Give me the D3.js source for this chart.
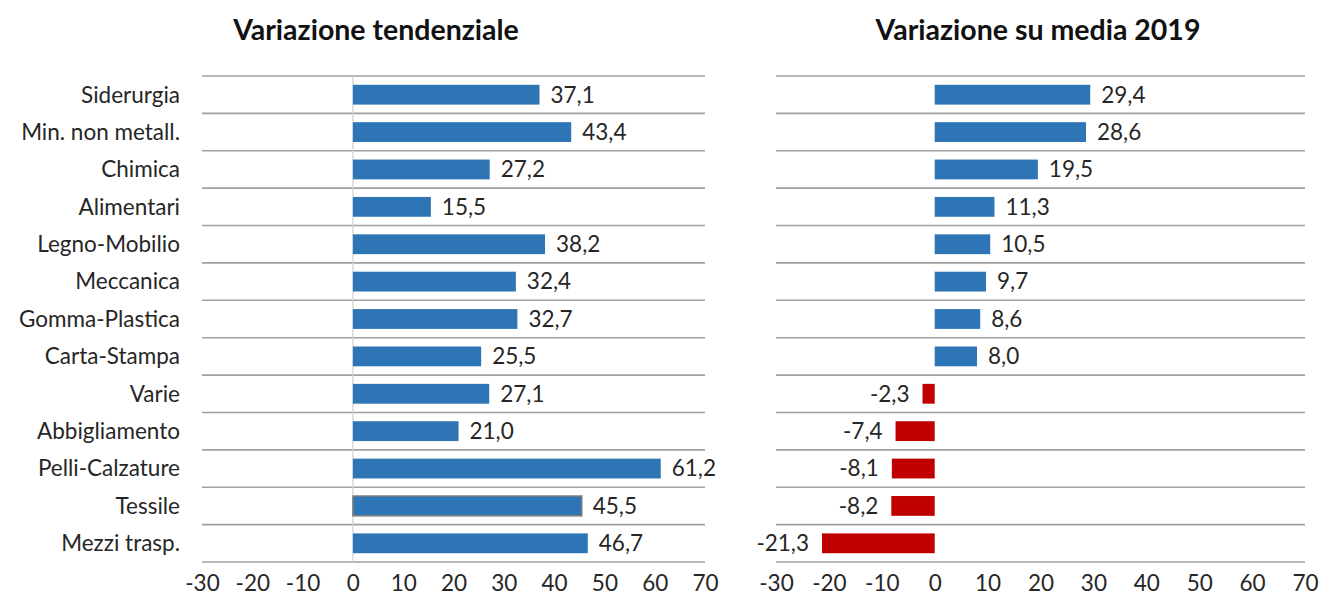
<!DOCTYPE html>
<html>
<head>
<meta charset="utf-8">
<script src="https://cdn.jsdelivr.net/npm/d3@7.9.0/dist/d3.min.js"></script>
<style>
  body { margin: 0; background: #fff; }
  svg { display: block; font-family: Lato, "Open Sans", sans-serif; }
</style>
</head>
<body>
<svg id="chart" width="1321" height="601"></svg>
<script>
// categories, top to bottom
const settori = ["Siderurgia", "Min. non metall.", "Chimica", "Alimentari", "Legno-Mobilio",
  "Meccanica", "Gomma-Plastica", "Carta-Stampa", "Varie", "Abbigliamento",
  "Pelli-Calzature", "Tessile", "Mezzi trasp."];
// variazione tendenziale
const tendenziale = [37.1, 43.4, 27.2, 15.5, 38.2, 32.4, 32.7, 25.5, 27.1, 21.0, 61.2, 45.5, 46.7];
// variazione su media 2019
const suMedia2019 = [29.4, 28.6, 19.5, 11.3, 10.5, 9.7, 8.6, 8.0, -2.3, -7.4, -8.1, -8.2, -21.3];
const tickValues = [-30, -20, -10, 0, 10, 20, 30, 40, 50, 60, 70];
const titles = ["Variazione tendenziale", "Variazione su media 2019"];

const it = d3.formatLocale({ decimal: ",", thousands: ".", grouping: [3], currency: ["€", ""], minus: "-" });
const fmt = it.format(".1f");
const fmtTick = it.format("d");

const svg = d3.select("#chart");
const plotTop = 76, plotBottom = 562;
const fs = 22.5;

let y = d3.scaleBand().domain(settori).range([plotTop, plotBottom]).paddingInner(0.47).paddingOuter(0.235);

// category labels
svg.append("g").selectAll("text")
  .data(settori)
  .join("text")
  .attr("x", 180)
  .attr("y", d => y(d) + y.bandwidth() / 2)
  .attr("dy", "0.35em")
  .attr("text-anchor", "end")
  .attr("font-size", fs)
  .attr("fill", "#262626")
  .text(d => d);

function panel(values, x0, x1, title, titleX, zeroLine) {
  let x = d3.scaleLinear().domain([-30, 70]).range([x0, x1]);
  let g = svg.append("g");

  g.append("text")
    .attr("x", titleX).attr("y", 40)
    .attr("text-anchor", "middle")
    .attr("font-size", 28.5).attr("font-weight", "bold")
    .attr("fill", "#111")
    .text(title);

  // horizontal grid lines at band edges
  let edges = settori.map(d => y(d) - y.step() * y.paddingInner() / 2);
  edges.push(plotBottom);
  g.selectAll("line.grid")
    .data(edges)
    .join("line")
    .attr("class", "grid")
    .attr("x1", x0).attr("x2", x1)
    .attr("y1", d => d).attr("y2", d => d)
    .attr("stroke", "#a0a0a0").attr("stroke-width", 1.6);

  if (zeroLine) {
    g.append("line")
      .attr("x1", x(0)).attr("x2", x(0))
      .attr("y1", plotTop).attr("y2", plotBottom)
      .attr("stroke", "#d0d0d0").attr("stroke-width", 1.2);
  }

  g.selectAll("rect")
    .data(values)
    .join("rect")
    .attr("x", d => x(Math.min(0, d)))
    .attr("width", d => Math.abs(x(d) - x(0)))
    .attr("y", (d, i) => y(settori[i]))
    .attr("height", y.bandwidth())
    .attr("fill", d => d < 0 ? "#C00000" : "#2E75B6")
    .attr("stroke", (d, i) => zeroLine && settori[i] === "Tessile" ? "#7f7f7f" : "none")
    .attr("stroke-width", 1.5);

  g.selectAll("text.val")
    .data(values)
    .join("text")
    .attr("class", "val")
    .attr("x", d => d < 0 ? x(d) - 13 : x(d) + 11)
    .attr("y", (d, i) => y(settori[i]) + y.bandwidth() / 2)
    .attr("dy", "0.35em")
    .attr("text-anchor", d => d < 0 ? "end" : "start")
    .attr("font-size", fs)
    .attr("fill", "#262626")
    .text(d => fmt(d));

  let axis = d3.axisBottom(x).tickValues(tickValues).tickFormat(fmtTick).tickSize(0).tickPadding(13);
  let ax = g.append("g").attr("transform", `translate(0,${plotBottom})`).call(axis);
  ax.select(".domain").remove();
  ax.selectAll("text").attr("font-size", fs).attr("fill", "#262626").attr("font-family", "Lato, 'Open Sans', sans-serif");
}

panel(tendenziale, 202, 705, titles[0], 376, true);
panel(suMedia2019, 776, 1305, titles[1], 1038, false);
</script>
</body>
</html>
